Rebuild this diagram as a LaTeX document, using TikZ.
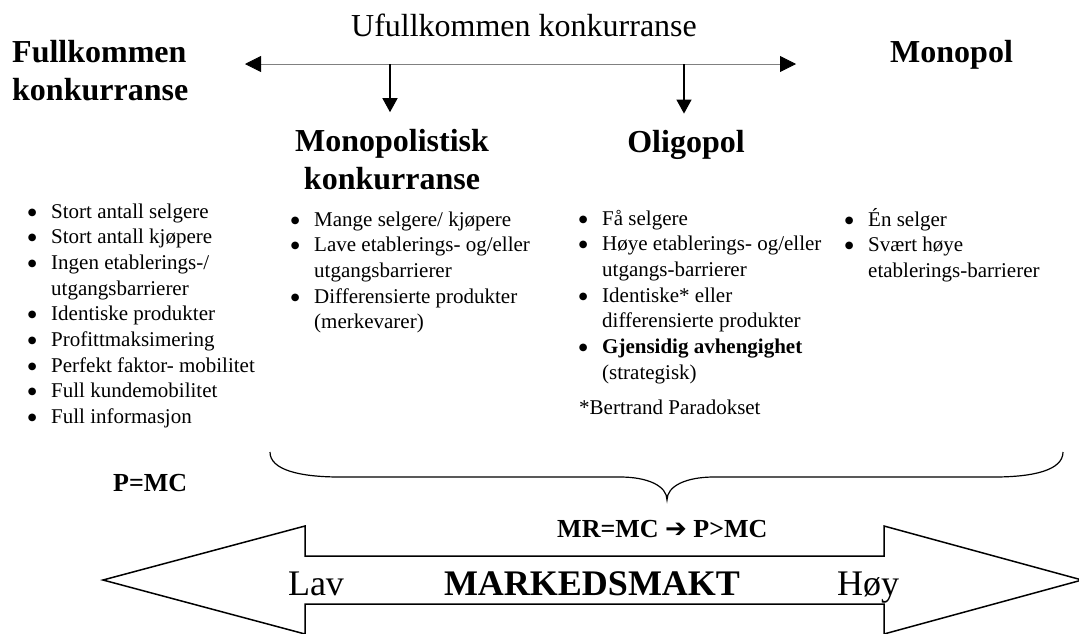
\documentclass[tikz,border=0pt]{standalone}
\usepackage{fontspec}
\setmainfont{Liberation Serif}
\newfontfamily\symfont{DejaVu Sans}
\usetikzlibrary{arrows.meta,positioning}
\newcommand\bul{\makebox[38pt]{\raisebox{3pt}{\fontsize{10}{12}\selectfont\symfont ●}}}

\begin{document}
\begin{tikzpicture}[x=1pt,y=-1pt,
  head/.style={font=\fontsize{32}{38}\selectfont\bfseries,inner sep=0pt,anchor=base west},
  blist/.style={font=\fontsize{21}{25.7}\selectfont,inner sep=0pt,anchor=base west},
  eqn/.style={font=\fontsize{26}{30}\selectfont\bfseries,inner sep=0pt,anchor=base west},
  power/.style={font=\fontsize{36}{40}\selectfont,inner sep=0pt,anchor=base},
  down/.style={-{Triangle[length=14pt,width=15pt]},line width=1.3pt}]
  \useasboundingbox (0,0) rectangle (1079,633);
  \clip (0,0) rectangle (1079,633);
  % Headings
  \node[font=\fontsize{32}{38}\selectfont,inner sep=0pt,anchor=base] (title) at (524,36) {Ufullkommen konkurranse};
  \node[head] (fk) at (12,62) {\begin{tabular}[t]{@{}l@{}}Fullkommen\\konkurranse\end{tabular}};
  \node[head] (mono) at (890,62) {Monopol};
  \node[head,anchor=base] (mk) at (392,151) {\begin{tabular}[t]{@{}c@{}}Monopolistisk\\konkurranse\end{tabular}};
  \node[head,anchor=base] (oligo) at (686,152) {Oligopol};
  % Scale arrow
  \coordinate (hl) at (245,64);
  \coordinate (hr) at (796,64);
  \coordinate (dm) at (390,64);
  \coordinate (do) at (684,64);
  \draw[gray,line width=0.8pt,{Triangle[color=black,length=16pt,width=16pt]}-{Triangle[color=black,length=16pt,width=16pt]}] (hl) -- (hr);
  \draw[down,shorten >=12pt] (dm) -- (dm |- mk.north);
  \draw[down,shorten >=16pt] (do) -- (do |- oligo.north);
  % Lists
  \node[blist] (l1) at (13,218) {\begin{tabular}[t]{@{}l@{}l@{}}
    \bul & Stort antall selgere\\
    \bul & Stort antall kjøpere\\
    \bul & Ingen etablerings-/\\
         & utgangsbarrierer\\
    \bul & Identiske produkter\\
    \bul & Profittmaksimering\\
    \bul & Perfekt faktor- mobilitet\\
    \bul & Full kundemobilitet\\
    \bul & Full informasjon\end{tabular}};
  \node[blist] (l2) at (276,226) {\begin{tabular}[t]{@{}l@{}l@{}}
    \bul & Mange selgere/ kjøpere\\
    \bul & Lave etablerings- og/eller\\
         & utgangsbarrierer\\
    \bul & Differensierte produkter\\
         & (merkevarer)\end{tabular}};
  \node[blist] (l3) at (564,225) {\begin{tabular}[t]{@{}l@{}l@{}}
    \bul & Få selgere\\
    \bul & Høye etablerings- og/eller\\
         & utgangs-barrierer\\
    \bul & Identiske* eller\\
         & differensierte produkter\\
    \bul & \textbf{Gjensidig avhengighet}\\
         & (strategisk)\end{tabular}};
  \node[blist] (note) at (579,414) {*Bertrand Paradokset};
  \node[blist] (l4) at (830,226) {\begin{tabular}[t]{@{}l@{}l@{}}
    \bul & Én selger\\
    \bul & Svært høye\\
         & etablerings-barrierer\end{tabular}};
  % Brace
  \draw[line width=1.2pt] (270,452) .. controls (270,470) and (300,477) .. (340,477) -- (620,477)
    .. controls (648,477) and (667,486) .. (667,500) .. controls (667,486) and (686,477) .. (714,477)
    -- (994,477) .. controls (1034,477) and (1063,470) .. (1063,452);
  \node[eqn] (pmc) at (113,491) {P=MC};
  \node[eqn] (mrmc) at (557,537) {MR=MC {\symfont\mdseries ➔} P>MC};
  % Market power arrow
  \draw[line width=1.5pt,line join=miter] (103,580) -- (305,526) -- (305,556) -- (884,556) -- (884,526) -- (1082,580)
    -- (884,634) -- (884,604) -- (305,604) -- (305,634) -- cycle;
  \node[power] (lav) at (316,595) {Lav};
  \node[power,font=\fontsize{36}{40}\selectfont\bfseries] (mm) at (592,595) {MARKEDSMAKT};
  \node[power] (hoy) at (868,595) {Høy};
\end{tikzpicture}
\end{document}
